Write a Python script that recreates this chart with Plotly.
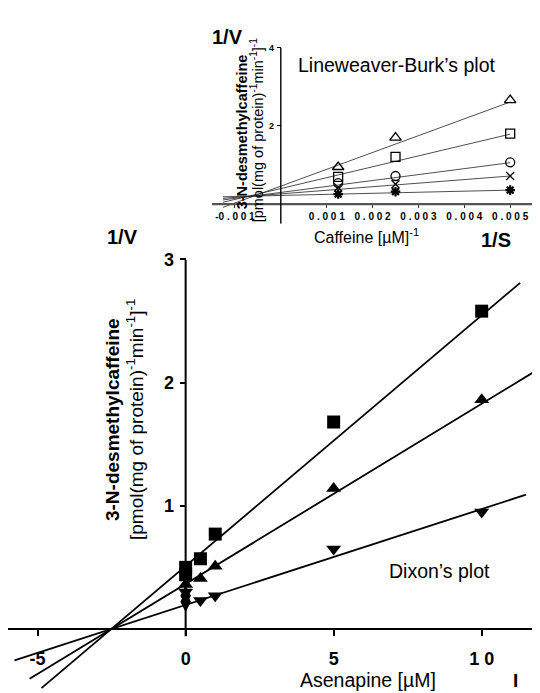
import plotly.graph_objects as go

# ---------------- DATA ----------------
# Dixon's plot (main)
asen_sq_x = [0, 0, 0.5, 1, 5, 10]
asen_sq_y = [0.50, 0.44, 0.57, 0.77, 1.68, 2.58]
asen_up_x = [0, 0.5, 1, 5, 10]
asen_up_y = [0.36, 0.41, 0.51, 1.14, 1.86]
asen_dn_x = [0, 0.5, 1, 5, 10]
asen_dn_y = [0.30, 0.23, 0.27, 0.65, 0.95]
asen_di_x = [0, 0]
asen_di_y = [0.27, 0.22]

fit_sq_x = [-4.87, 11.3]
fit_sq_y = [-0.48, 2.81]
fit_up_x = [-5.27, 11.86]
fit_up_y = [-0.405, 2.10]
fit_dn_x = [-5.78, 11.5]
fit_dn_y = [-0.255, 1.09]

main_xticks = [-5, 0, 5, 10]
main_xticklabels = ["-5", "0", "5", "1 0"]
main_yticks = [1, 2, 3]
main_yticklabels = ["1", "2", "3"]

# Lineweaver-Burk (inset)
caf_x = [0.00125, 0.0025, 0.005]
lb_tri = [0.95, 1.70, 2.66]
lb_sq = [0.70, 1.21, 1.80]
lb_circ = [0.54, 0.72, 1.07]
lb_x = [0.43, 0.51, 0.72]
lb_star = [0.26, 0.32, 0.36]

lb_fit_x = [-0.00126, 0.005]
lb_fit_tri = [-0.08, 2.61]
lb_fit_sq = [0.05, 1.79]
lb_fit_circ = [0.11, 1.06]
lb_fit_x_line = [0.15, 0.72]
lb_fit_star = [0.19, 0.36]

inset_xticks = [-0.001, 0.001, 0.002, 0.003, 0.004, 0.005]
inset_xticklabels = ["-0 . 0 0 1", "0 . 0 0 1", "0 . 0 0 2", "0 . 0 0 3", "0 . 0 0 4", "0 . 0 0 5"]
inset_yticks = [2, 4]
inset_yticklabels = ["2", "4"]

# ---------------- LAYOUT GEOMETRY ----------------
# page body has an 8px margin: figure is drawn 8px right/down of the window corner
OFF = 8
W, H = 540 - OFF, 693 - OFF
FONT = "Arial, Liberation Sans, sans-serif"


def fx(px):
    return (px - OFF) / W


def fy(py):
    return 1 - (py - OFF) / H


main_xr = [-6.0, 11.97]
main_yr = [-0.5, 3.0]
main_xd = [max(0.0, fx(8)), 1.0]
main_yd = [fy(690.5), fy(253)]

ins_xr = [-0.0015, 0.00565]
ins_yr = [-0.5, 4.0]
ins_xd = [fx(212), 1.0]
ins_yd = [fy(216.85), fy(38)]


def frac(val, rng, dom):
    return dom[0] + (val - rng[0]) / (rng[1] - rng[0]) * (dom[1] - dom[0])


fig = go.Figure()

# main markers
mk = dict(color="black")
fig.add_trace(go.Scatter(x=asen_sq_x, y=asen_sq_y, mode="markers",
                         marker=dict(symbol="square", size=13, **mk), cliponaxis=False))
fig.add_trace(go.Scatter(x=asen_up_x, y=asen_up_y, mode="markers",
                         marker=dict(symbol="triangle-up", size=13, **mk), cliponaxis=False))
fig.add_trace(go.Scatter(x=asen_dn_x, y=asen_dn_y, mode="markers",
                         marker=dict(symbol="triangle-down", size=13, **mk), cliponaxis=False))
fig.add_trace(go.Scatter(x=asen_di_x, y=asen_di_y, mode="markers",
                         marker=dict(symbol="diamond-tall", size=15, **mk), cliponaxis=False))
for lx, ly in [(fit_sq_x, fit_sq_y), (fit_up_x, fit_up_y), (fit_dn_x, fit_dn_y)]:
    fig.add_trace(go.Scatter(x=lx, y=ly, mode="lines", line=dict(color="black", width=1.8),
                             cliponaxis=False))

# inset markers and lines
for ly in [lb_fit_tri, lb_fit_sq, lb_fit_circ, lb_fit_x_line, lb_fit_star]:
    fig.add_trace(go.Scatter(x=lb_fit_x, y=ly, mode="lines", xaxis="x2", yaxis="y2",
                             line=dict(color="#222", width=0.8), cliponaxis=False))
ins_sym = [("triangle-up-open", lb_tri, 10), ("square-open", lb_sq, 9), ("circle-open", lb_circ, 9),
           ("x-thin-open", lb_x, 8), ("asterisk-open", lb_star, 8)]
for sym, ys, sz in ins_sym:
    fig.add_trace(go.Scatter(x=caf_x, y=ys, mode="markers", xaxis="x2", yaxis="y2",
                             marker=dict(symbol=sym, size=sz, color="black",
                                         line=dict(color="black",
                                                   width=1.3 if sym != "asterisk-open" else 2.2)),
                             cliponaxis=False))

shapes = [
    dict(type="line", xref="x", yref="y", x0=main_xr[0], x1=main_xr[1], y0=0, y1=0,
         line=dict(color="black", width=2)),
    dict(type="line", xref="x", yref="y", x0=0, x1=0, y0=-0.06, y1=3.0,
         line=dict(color="black", width=2)),
    dict(type="line", xref="x2", yref="y2", x0=ins_xr[0], x1=ins_xr[1], y0=0, y1=0,
         line=dict(color="#555", width=2.2)),
    dict(type="line", xref="x2", yref="y2", x0=0, x1=0, y0=ins_yr[0], y1=4.0,
         line=dict(color="black", width=1.4)),
]


def px(x, y, ya="middle"):
    return dict(xref="paper", yref="paper", x=fx(x), y=fy(y),
                xanchor="center", yanchor=ya, showarrow=False)


anns = [
    dict(text="<b>1/V</b>", **px(122, 230), font=dict(size=20)),
    dict(text="<b>1/V</b>", **px(227, 27), font=dict(size=20)),
    dict(text="<b>1/S</b>", **px(496, 233), font=dict(size=20)),
    dict(text="<b>I</b>", **px(515, 693, "bottom"), font=dict(size=19)),
    dict(text="Lineweaver-Burk\u2019s plot", **px(396, 56), font=dict(size=19.5)),
    dict(text="Caffeine [\u00b5M]<sup>-1</sup>", **px(366, 229), font=dict(size=16)),
    dict(text="Dixon\u2019s plot", **px(439, 569), font=dict(size=19.5)),
    dict(text="Asenapine [\u00b5M]", **px(368, 693, "bottom"), font=dict(size=19.5)),
    dict(text="<b>3-N-desmethylcaffeine</b>", **px(112, 416), textangle=-90,
         font=dict(size=19)),
    dict(text="[pmol(mg of protein)<sup>-1</sup>min<sup>-1</sup>]<sup>-1</sup>", **px(135, 416),
         textangle=-90, font=dict(size=19)),
    dict(text="<b>3-N-desmethylcaffeine</b>", **px(242, 124), textangle=-90,
         font=dict(size=14.5)),
    dict(text="[pmol(mg of protein)<sup>-1</sup>min<sup>-1</sup>]<sup>-1</sup>", **px(257, 122),
         textangle=-90, font=dict(size=14.5)),
]

fig.update_layout(
    width=W, height=H, autosize=False,
    margin=dict(l=0, r=0, t=0, b=0),
    paper_bgcolor="white", plot_bgcolor="rgba(0,0,0,0)",
    showlegend=False,
    font=dict(family=FONT, color="black"),
    shapes=shapes, annotations=anns,
    xaxis=dict(domain=main_xd, range=main_xr, anchor="free",
               position=frac(0, main_yr, main_yd),
               showline=False, showgrid=False, zeroline=False,
               tickmode="array", tickvals=main_xticks,
               ticktext=["<b>%s</b>" % t for t in main_xticklabels],
               ticks="outside", ticklen=6, tickwidth=1.5, tickcolor="black",
               ticklabelstandoff=7, tickfont=dict(size=18)),
    yaxis=dict(domain=main_yd, range=main_yr, anchor="free",
               position=frac(0, main_xr, main_xd),
               showline=False, showgrid=False, zeroline=False,
               tickmode="array", tickvals=main_yticks,
               ticktext=["<b>%s</b>" % t for t in main_yticklabels],
               ticks="outside", ticklen=6, tickwidth=1.5, tickcolor="black",
               ticklabelstandoff=2, tickfont=dict(size=18)),
    xaxis2=dict(domain=ins_xd, range=ins_xr, anchor="free",
                position=frac(0, ins_yr, ins_yd),
                showline=False, showgrid=False, zeroline=False,
                tickmode="array", tickvals=inset_xticks,
                ticktext=["<b>%s</b>" % t for t in inset_xticklabels],
                ticks="outside", ticklen=3, tickwidth=1.2, tickcolor="#333",
                ticklabelstandoff=0, tickfont=dict(size=10)),
    yaxis2=dict(domain=ins_yd, range=ins_yr, anchor="free",
                position=frac(0, ins_xr, ins_xd),
                showline=False, showgrid=False, zeroline=False,
                tickmode="array", tickvals=inset_yticks,
                ticktext=["<b>%s</b>" % t for t in inset_yticklabels],
                ticks="outside", ticklen=4, tickwidth=1.2, tickcolor="black",
                ticklabelstandoff=1, tickfont=dict(size=9)),
)

fig.write_html("out.html")
